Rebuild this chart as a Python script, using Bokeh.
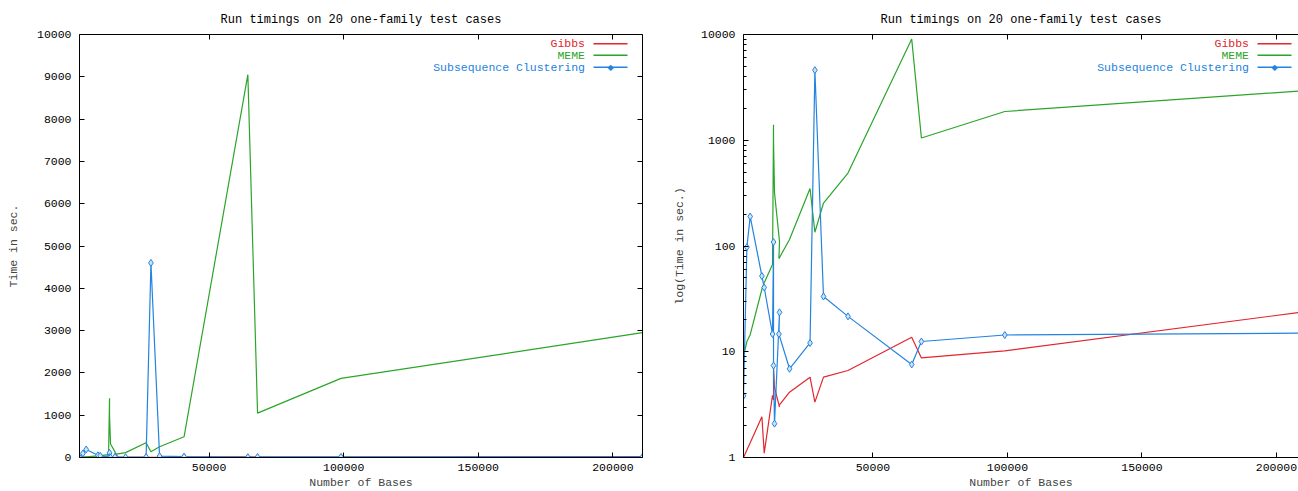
from bokeh.plotting import figure
from bokeh.layouts import row
from bokeh.models import (FixedTicker, NumeralTickFormatter, LinearAxis, LogAxis,
                          Label, BoxAnnotation, Range1d)
from bokeh.embed import file_html
from bokeh.resources import INLINE

# ---------------- data ----------------
bases = [1860, 3120, 4350, 8700, 9560, 12650, 13020, 13020, 13390, 15250,
         15030, 18970, 26600, 28400, 31600, 40700, 64400, 68000, 99000, 211000]
gibbs = [1.0, 1.18, 1.38, 2.43, 1.1, 3.88, 3.5, 6.7, 4.6, 3.0,
         3.1, 4.15, 5.75, 3.34, 5.75, 6.65, 13.7, 8.75, 10.2, 24.0]
meme = [9.0, 12.5, 14.5, 39.0, 45.0, 67.0, 1400.0, 1000.0, 320.0, 110.0,
        76.0, 115.0, 350.0, 135.0, 255.0, 490.0, 9050.0, 1050.0, 1870.0, 2950.0]
subclust = [3.83, 97.5, 190.0, 52.0, 40.5, 14.7, 109.0, 7.4, 2.09, 23.6,
            14.7, 6.9, 12.1, 4600.0, 33.3, 21.6, 7.58, 12.5, 14.4, 15.0]

series_names = ["Gibbs", "MEME", "Subsequence Clustering"]
series_values = [gibbs, meme, subclust]
colors = ["#e2262c", "#2aa52a", "#2383df"]

x_ticks = [50000, 100000, 150000, 200000]
lin_y_ticks = list(range(0, 10001, 1000))
log_y_ticks = [1, 10, 100, 1000, 10000]
log_y_minor = [m * 10 ** k for k in range(4) for m in range(2, 10)]

title_text = "Run timings on 20 one-family test cases"
x_label = "Number of Bases"
y_label_lin = "Time in sec."
y_label_log = "log(Time in sec.)"

right_view_end = 208200   # the right panel is cut by the window edge

FONT = "Liberation Mono"
FS = "11.5px"
FIG_H = 491
FRAME_BOTTOM_FROM_TOP = 458   # used to place the key in frame units


def style_axis(ax, ticks, minor=None, labels=True):
    ax.ticker = FixedTicker(ticks=ticks, minor_ticks=minor or [])
    ax.formatter = NumeralTickFormatter(format="0")
    ax.axis_line_color = "black"
    ax.axis_line_width = 1
    ax.major_tick_in = 5
    ax.major_tick_out = 0
    ax.minor_tick_in = 3
    ax.minor_tick_out = 0
    ax.major_tick_line_color = "black"
    ax.minor_tick_line_color = "black"
    ax.major_label_text_font = FONT
    ax.major_label_text_font_size = FS
    ax.major_label_text_color = "black"
    if labels:
        ax.major_label_standoff = 8
    else:
        ax.major_label_standoff = 0
        ax.major_label_text_font_size = "1px"
        ax.major_label_text_alpha = 0


def make_fig(log, width, x_end, min_left, min_right, right_axis, ylab_standoff):
    p = figure(width=width, height=FIG_H,
               x_range=Range1d(min(bases), x_end),
               y_range=Range1d(1, 10000) if log else Range1d(0, 10000),
               y_axis_type="log" if log else "linear",
               output_backend="svg", toolbar_location=None,
               min_border_left=min_left, min_border_right=min_right,
               min_border_top=34, min_border_bottom=33)
    p.outline_line_color = None
    p.background_fill_color = "white"
    p.border_fill_color = "white"
    p.xgrid.visible = False
    p.ygrid.visible = False

    yt = log_y_ticks if log else lin_y_ticks
    ym = log_y_minor if log else None
    xa = p.xaxis[0]
    style_axis(xa, x_ticks)
    xa.major_label_standoff = 6
    xa.axis_label = x_label
    xa.axis_label_text_font = FONT
    xa.axis_label_text_font_size = FS
    xa.axis_label_text_font_style = "normal"
    xa.axis_label_standoff = 2

    ya = p.yaxis[0]
    style_axis(ya, yt, ym)
    ya.axis_label = y_label_log if log else y_label_lin
    ya.axis_label_text_font = FONT
    ya.axis_label_text_font_size = FS
    ya.axis_label_text_font_style = "normal"
    ya.axis_label_standoff = ylab_standoff

    top = LinearAxis()
    style_axis(top, x_ticks, labels=False)
    p.add_layout(top, "above")
    if right_axis:
        r = LogAxis() if log else LinearAxis()
        style_axis(r, yt, ym, labels=False)
        p.add_layout(r, "right")

    p.title.text = title_text
    p.title.align = "center"
    p.title.text_font = FONT
    p.title.text_font_size = "12px"
    p.title.text_font_style = "normal"
    p.title.text_color = "black"
    p.title.standoff = 16

    for name, vals, c in zip(series_names, series_values, colors):
        p.line(bases, vals, line_color=c, line_width=1.2)
    p.scatter(bases, subclust, marker="diamond", size=7,
              line_color=colors[2], fill_color="#cfe3f7", line_width=1)

    # gnuplot-style key: right aligned text, sample line to the right
    rows_y = [FRAME_BOTTOM_FROM_TOP - v for v in (44.3, 55.7, 67.7)]
    for name, c, yy in zip(series_names, colors, rows_y):
        p.add_layout(Label(x=505.5, y=yy, x_units="screen", y_units="screen",
                           text=name, text_font=FONT, text_font_size=FS,
                           text_align="right", text_baseline="middle",
                           text_color=c))
        p.add_layout(BoxAnnotation(left=514, right=548, bottom=yy - 0.7, top=yy + 0.7,
                                   left_units="screen", right_units="screen",
                                   bottom_units="screen", top_units="screen",
                                   fill_color=c, fill_alpha=1, line_color=None))
    p.add_layout(Label(x=531, y=rows_y[2], x_units="screen", y_units="screen",
                       text="\u25c6", text_font="DejaVu Sans", text_font_size="8px",
                       text_align="center", text_baseline="middle",
                       text_color=colors[2]))
    return p


p1 = make_fig(False, 668, max(bases), 79, 26, True, 14)
p2 = make_fig(True, 630, right_view_end, 75, 0, False, 12)

layout = row(p1, p2)
open("out.html", "w").write(file_html(layout, INLINE))
